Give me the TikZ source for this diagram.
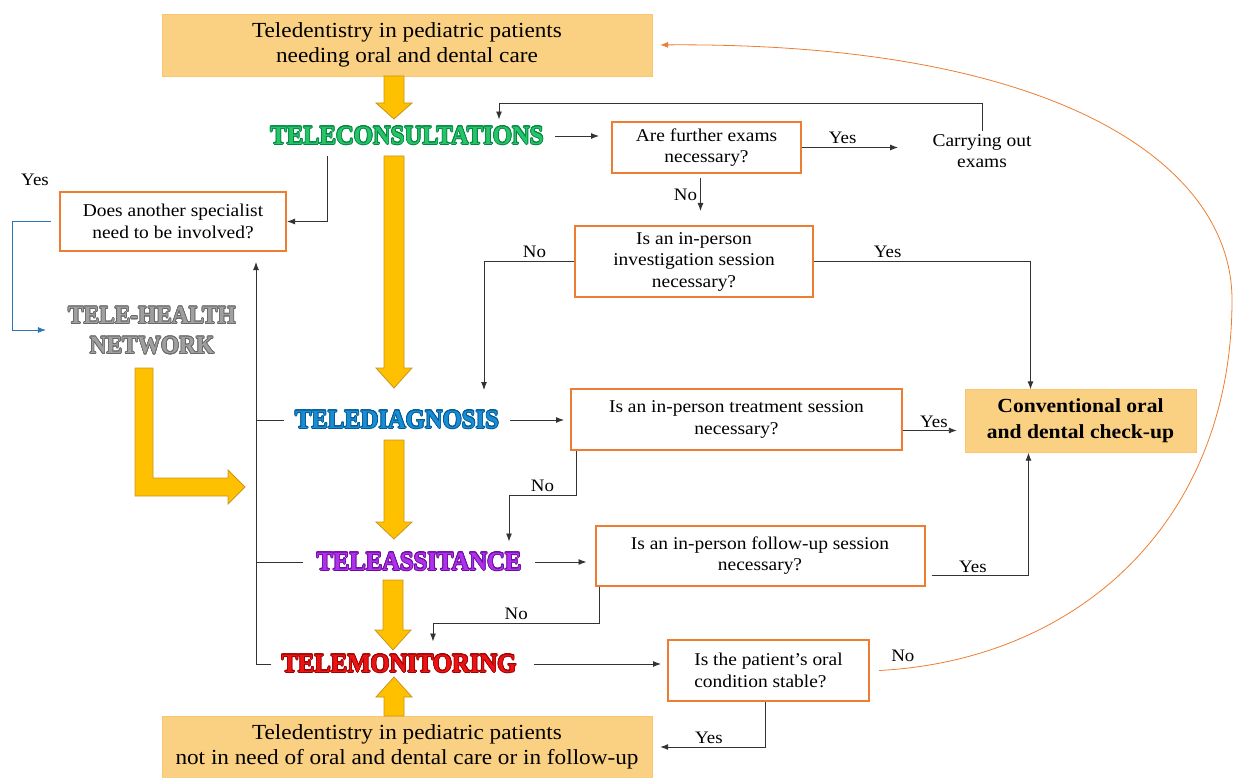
\documentclass[tikz,border=0pt]{standalone}
\usepackage{fontspec}
\setmainfont{Liberation Serif}[FakeStretch=1.08]
\usepackage{contour}
\usetikzlibrary{positioning,arrows.meta}

\definecolor{qorange}{RGB}{237,125,49}
\definecolor{boxfill}{RGB}{250,208,130}
\definecolor{fatyellow}{RGB}{255,192,0}
\definecolor{fatedge}{RGB}{200,150,30}
\definecolor{tcgreen}{RGB}{40,195,105}
\definecolor{tcgreenedge}{RGB}{0,135,65}
\definecolor{tdblue}{RGB}{25,140,210}
\definecolor{tdblueedge}{RGB}{0,90,150}
\definecolor{tapurple}{RGB}{175,50,235}
\definecolor{tapurpleedge}{RGB}{110,10,160}
\definecolor{tmred}{RGB}{235,20,20}
\definecolor{tmrededge}{RGB}{160,0,0}
\definecolor{thgray}{RGB}{160,160,160}
\definecolor{thgrayedge}{RGB}{105,105,105}
\definecolor{linkblue}{RGB}{46,117,182}

\contourlength{0.7pt}
\newcommand{\stagetxt}[3]{\scalebox{1}[1.16]{\contour{#1}{\textcolor{#2}{#3}}}}
% fat yellow arrow: x, y start, y head, y tip
\newcommand{\fatarrowv}[4]{%
  \draw[fatarrow] ({#1-10},#2) -- ({#1+10},#2) -- ({#1+10},#3) -- ({#1+18},#3)
    -- (#1,#4) -- ({#1-18},#3) -- ({#1-10},#3) -- cycle;}

\begin{document}
\begin{tikzpicture}[x=1pt,y=-1pt,
  bigbox/.style={fill=boxfill, draw=boxfill!85!orange, minimum width=490pt,
    minimum height=62pt, align=center, font=\fontsize{21.5}{25}\selectfont},
  qbox/.style={draw=qorange, line width=2pt, align=center, inner sep=2pt,
    font=\fontsize{18}{21.5}\selectfont},
  stage/.style={font=\bfseries\fontsize{22.8}{30}\selectfont, inner sep=1pt},
  lbl/.style={font=\fontsize{17.5}{20}\selectfont, inner sep=1pt},
  link/.style={draw=black!80, line width=0.9pt, -{Latex[length=8pt,width=6pt]}},
  plain/.style={draw=black!80, line width=0.9pt},
  bluelink/.style={draw=linkblue, line width=0.9pt, -{Latex[length=8pt,width=6pt]}},
  backlink/.style={draw=qorange, line width=0.8pt, -{Latex[length=8pt,width=6pt]}},
  fatarrow/.style={fill=fatyellow, draw=fatedge, line width=0.8pt},
]
\useasboundingbox (0,0) rectangle (1234,778);

% Define nodes
\node[bigbox] (topbox) at (407,45) {Teledentistry in pediatric patients\\needing oral and dental care};
\node[bigbox] (botbox) at (407,747) {Teledentistry in pediatric patients\\not in need of oral and dental care or in follow-up};

\node[stage] (tcons) at (407,136) {\stagetxt{tcgreenedge}{tcgreen}{TELECONSULTATIONS}};
\node[stage] (tdiag) at (397,420) {\stagetxt{tdblueedge}{tdblue}{TELEDIAGNOSIS}};
\node[stage] (tassist) at (419,562) {\stagetxt{tapurpleedge}{tapurple}{TELEASSITANCE}};
\node[stage] (tmon) at (399,664) {\stagetxt{tmrededge}{tmred}{TELEMONITORING}};
\node[stage, align=center, font=\bfseries\fontsize{21.6}{30}\selectfont] (thn) at (152,331)
  {\stagetxt{thgrayedge}{thgray}{TELE-HEALTH}\\\stagetxt{thgrayedge}{thgray}{NETWORK}};

\node[qbox, minimum width=226pt, minimum height=59pt] (qspec) at (173,221.5) {Does another specialist\\need to be involved?};
\node[qbox, minimum width=189pt, minimum height=51pt] (qexams) at (706.5,147.5) {Are further exams\\necessary?};
\node[align=center, font=\fontsize{18}{21}\selectfont] (carry) at (982,151) {Carrying out\\exams};
\node[qbox, minimum width=238pt, minimum height=71pt] (qinvest) at (694,261.5) {Is an in-person\\investigation session\\necessary?};
\node[qbox, minimum width=331pt, minimum height=61pt] (qtreat) at (736.5,419.5) {Is an in-person treatment session\\necessary?};
\node[qbox, minimum width=329pt, minimum height=60pt] (qfollow) at (760,555.5) {Is an in-person follow-up session\\necessary?};
\node[qbox, align=left, minimum width=201pt, minimum height=61pt] (qstable) at (768.5,670.5) {Is the patient's oral\\condition stable?};
\node[bigbox, minimum width=231pt, minimum height=63pt, font=\bfseries\fontsize{20}{26}\selectfont] (conv) at (1080.5,421) {Conventional oral\\and dental check-up};

\node[lbl] (yspec) at (35,180) {Yes};

% Fat arrows
\fatarrowv{394}{76}{103}{119}
\fatarrowv{394}{156}{368}{388}
\fatarrowv{394}{440}{522}{539}
\fatarrowv{393}{580}{630}{650}
\fatarrowv{394}{716}{697}{677}
\draw[fatarrow] (135,368) -- (153,368) -- (153,478) -- (228,478) -- (228,470) -- (245,487)
  -- (228,504) -- (228,496) -- (135,496) -- cycle;

% Connect nodes
\coordinate (fb) at (499,103);
\coordinate (ninv) at (484,390);
\coordinate (ntr) at (509,495);
\coordinate (nfo) at (433,623);
\coordinate (spine) at (256,262);
\coordinate (bl) at (12,330);

\draw[link, shorten <=10pt, shorten >=12pt] (tcons.east) -- (tcons.east -| qexams.west);
\draw[link, shorten >=31pt] (qexams.east) -- (qexams.east -| carry.west) node[lbl, pos=0.32, above=2pt] {Yes};
\draw[link, shorten >=6pt] (carry.north) |- (fb) -- (fb |- tcons.north);
\draw[link, shorten <=4pt, shorten >=14pt] ([xshift=-6pt]qexams.south) -- ([xshift=-6pt]qexams.south |- qinvest.north)
  node[lbl, pos=0.4, left=2pt] {No};
\draw[link] (qinvest.east) -| ([xshift=-50pt]conv.north) node[lbl, pos=0.17, above=2pt] {Yes};
\draw[link] (qinvest.west) -| (ninv) node[lbl, pos=0.22, above=2pt] {No};

\draw[link, shorten <=10pt, shorten >=6pt] (tdiag.east) -- (tdiag.east -| qtreat.west);
\draw[link, shorten >=8pt] ([yshift=-11pt]qtreat.east) -- ([yshift=-11pt]qtreat.east -| conv.west)
  node[lbl, midway, above=1pt] {Yes};
\draw[link, shorten >=10pt] ([xshift=6pt]qtreat.south west) |- (ntr) node[lbl, pos=0.75, above=2pt] {No}
  -- (ntr |- tassist.north);

\draw[link, shorten <=12pt, shorten >=8pt] (tassist.east) -- (tassist.east -| qfollow.west);
\draw[link, shorten <=6pt] ([yshift=-20pt]qfollow.east) -| ([xshift=-52pt]conv.south)
  node[lbl, pos=0.23, above=1pt] {Yes};
\draw[link, shorten >=12pt] ([xshift=5pt]qfollow.south west) |- (nfo) node[lbl, pos=0.75, above=2pt] {No}
  -- (nfo |- tmon.north);

\draw[link, shorten <=16pt, shorten >=6pt] (tmon.east) -- (tmon.east -| qstable.west);
\draw[link, shorten >=8pt] ([xshift=-3pt]qstable.south) |- (botbox.east) node[lbl, pos=0.75, above=2pt] {Yes};
\draw[backlink, shorten >=8pt] ([xshift=9pt]qstable.east) .. controls (1080,660) and (1232,520) .. (1232,300)
  node[lbl, pos=0.04, above=6pt, draw=none, text=black] {No}
  .. controls (1232,165) and (1060,42) .. (topbox.east);

\draw[link, shorten <=10pt] ([xshift=-80pt]tcons.south) |- (qspec.east);
\draw[link, shorten <=9pt] (tmon.west) -| (spine);
\draw[plain, shorten <=10pt] (tdiag.west) -- (tdiag.west -| spine);
\draw[plain, shorten <=12pt] (tassist.west) -- (tassist.west -| spine);
\draw[bluelink, shorten <=8pt, shorten >=21pt] (qspec.west) -| (bl) -- (bl -| thn.west);
\end{tikzpicture}
\end{document}
